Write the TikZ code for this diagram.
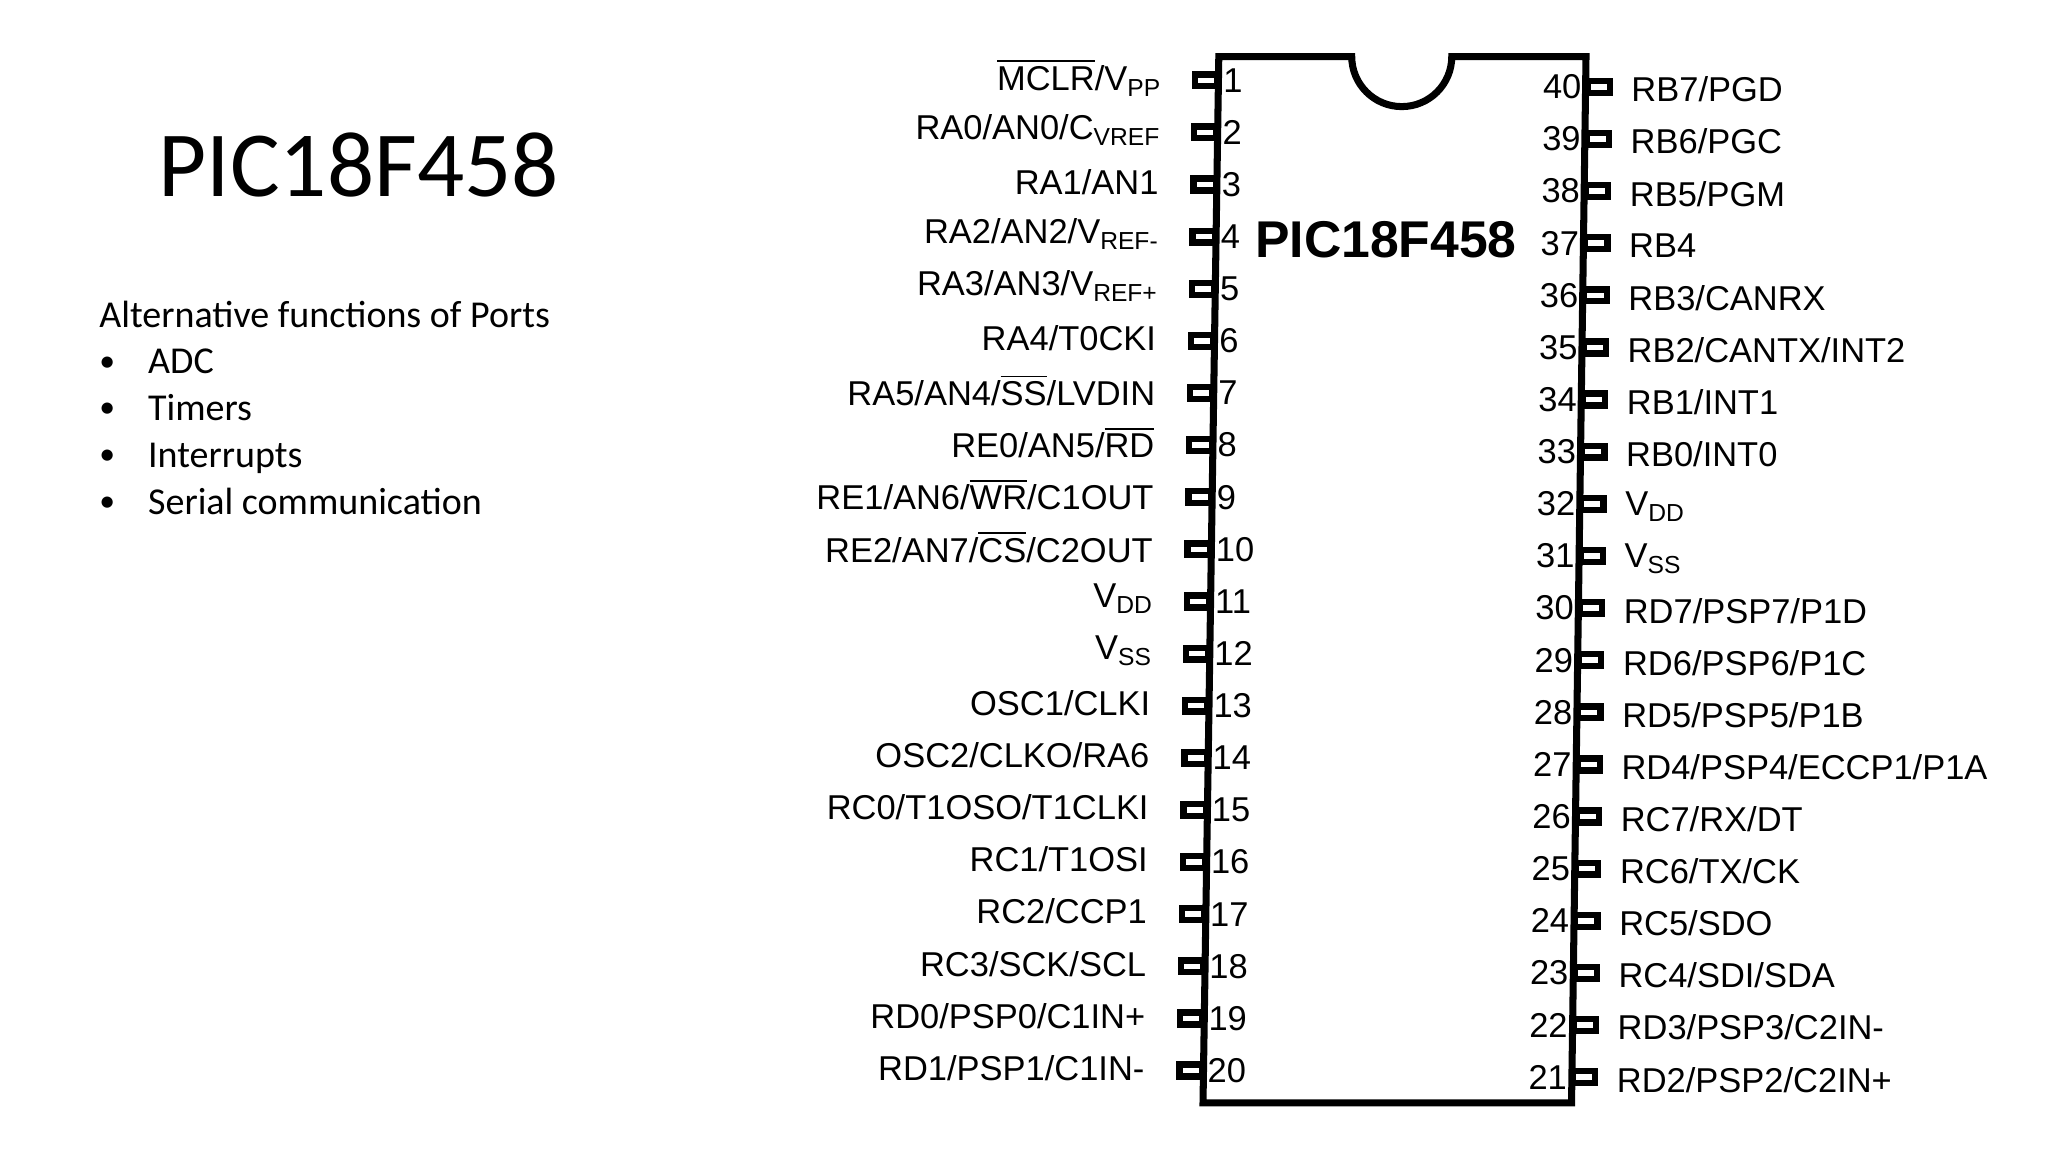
\documentclass[tikz,border=0pt]{standalone}
\usepackage{fontspec}
\setmainfont{Liberation Sans}
\newfontfamily\calfont{Carlito}
\newcommand{\ovl}[1]{$\overline{\mbox{#1}}$}
\newcommand{\subtx}[1]{\raisebox{-0.35ex}{\scriptsize #1}}
\newcommand{\bul}{\makebox[0.487cm][l]{\raisebox{0.15ex}{\small\textbullet}}}
\begin{document}
\begin{tikzpicture}[x=0.01316cm,y=-0.01316cm,
 lbl/.style={font=\fontsize{9.8}{11}\selectfont,inner sep=0pt},
 num/.style={font=\fontsize{9.8}{11}\selectfont,inner sep=0pt},
 stub/.style={draw,line width=1.8pt,fill=white}]
\useasboundingbox (0,0) rectangle (1556,875);
\node[font=\calfont\fontsize{26.5}{30}\selectfont,anchor=west,inner sep=0pt] (title) at (120,125) {PIC18F458};
\node[font=\calfont\fontsize{10.8}{12}\selectfont,anchor=north west,inner sep=0pt,align=left] (txt) at (75,228) {Alternative functions of Ports\\[1.3pt]
\bul ADC\\[1.3pt]
\bul Timers\\[1.3pt]
\bul Interrupts\\[1.3pt]
\bul Serial communication};
\draw[line width=2pt] (926,43) -- (1027,43) arc[start angle=180,end angle=0,radius=38] -- (1205,43) -- (1194,838) -- (914,838) -- cycle;
\node[font=\bfseries\fontsize{14.7}{17}\selectfont,inner sep=0pt] (chip) at (1053,182) {PIC18F458};
\foreach \i/\t in {1/{\ovl{MCLR}/V\subtx{PP}},2/{RA0/AN0/C\subtx{VREF}},3/{RA1/AN1},4/{RA2/AN2/V\subtx{REF-}},5/{RA3/AN3/V\subtx{REF+}},6/{RA4/T0CKI},7/{RA5/AN4/\ovl{SS}/LVDIN},8/{RE0/AN5/\ovl{RD}},9/{RE1/AN6/\ovl{WR}/C1OUT},10/{RE2/AN7/\ovl{CS}/C2OUT},11/{V\subtx{DD}},12/{V\subtx{SS}},13/{OSC1/CLKI},14/{OSC2/CLKO/RA6},15/{RC0/T1OSO/T1CLKI},16/{RC1/T1OSI},17/{RC2/CCP1},18/{RC3/SCK/SCL},19/{RD0/PSP0/C1IN+},20/{RD1/PSP1/C1IN-}}{
 \pgfmathsetmacro\yy{61+(\i-1)*39.6}
 \pgfmathsetmacro\xx{926-(\i-1)*0.63}
 \draw[stub] (\xx-18,\yy-4.5) rectangle (\xx-1,\yy+4.5);
 \node[num,anchor=west] (n\i) at (\xx+3,\yy) {\i};
 \node[lbl,anchor=east] (l\i) at (\xx-44,\yy-2) {\t};
}
\foreach \i/\t in {40/{RB7/PGD},39/{RB6/PGC},38/{RB5/PGM},37/{RB4},36/{RB3/CANRX},35/{RB2/CANTX/INT2},34/{RB1/INT1},33/{RB0/INT0},32/{V\subtx{DD}},31/{V\subtx{SS}},30/{RD7/PSP7/P1D},29/{RD6/PSP6/P1C},28/{RD5/PSP5/P1B},27/{RD4/PSP4/ECCP1/P1A},26/{RC7/RX/DT},25/{RC6/TX/CK},24/{RC5/SDO},23/{RC4/SDI/SDA},22/{RD3/PSP3/C2IN-},21/{RD2/PSP2/C2IN+}}{
 \pgfmathsetmacro\yy{66+(40-\i)*39.6}
 \pgfmathsetmacro\xx{1205-(40-\i)*0.58}
 \draw[stub] (\xx+1,\yy-4.5) rectangle (\xx+18,\yy+4.5);
 \node[num,anchor=east] (n\i) at (\xx-3,\yy) {\i};
 \node[lbl,anchor=west] (l\i) at (\xx+34,\yy+2) {\t};
}
\end{tikzpicture}
\end{document}
